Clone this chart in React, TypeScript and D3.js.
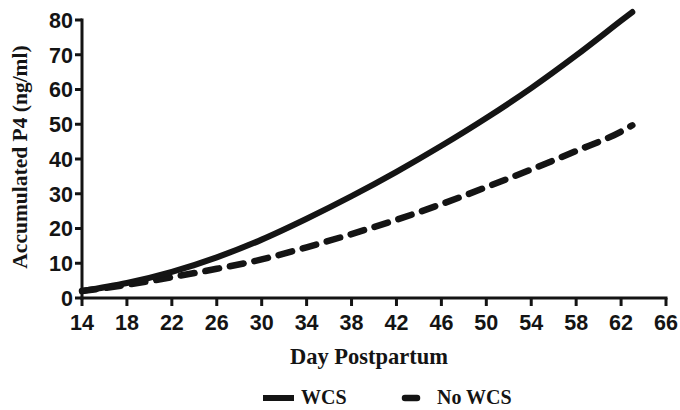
import React from 'react';
import * as d3 from 'd3';

// days
const days = [14, 18, 22, 26, 30, 34, 38, 42, 46, 50, 54, 58, 62, 63];
const wcs = [2.0, 4.3, 7.5, 11.7, 16.8, 22.8, 29.3, 36.3, 43.8, 51.8, 60.4, 69.8, 79.8, 82.3];
const noWcs = [2.0, 3.8, 6.0, 8.4, 11.1, 14.6, 18.4, 22.5, 27.0, 31.9, 37.0, 42.3, 47.9, 49.7];

const xTicks = [14, 18, 22, 26, 30, 34, 38, 42, 46, 50, 54, 58, 62, 66];
const yTicks = [0, 10, 20, 30, 40, 50, 60, 70, 80];

const W = 680, H = 410;

export default function App() {
  const x = d3.scaleLinear().domain([14, 66]).range([82, 666]);
  const y = d3.scaleLinear().domain([0, 80]).range([298, 20]);

  const line = d3.line<[number, number]>()
    .x(d => x(d[0]))
    .y(d => y(d[1]))
    .curve(d3.curveMonotoneX);

  const wcsPath = line(days.map((d, i) => [d, wcs[i]] as [number, number])) || '';
  const noPath = line(days.map((d, i) => [d, noWcs[i]] as [number, number])) || '';

  const ink = '#141414';
  const sans = '"Liberation Sans", Arial, sans-serif';
  const serif = '"Liberation Serif", "Times New Roman", serif';

  return (
    <svg width={W} height={H} style={{ position: 'fixed', left: 0, top: 0, background: '#fff' }}>
      {/* series */}
      <path d={noPath} fill="none" stroke={ink} strokeWidth={6.5} strokeDasharray="14 11"
        strokeLinecap="round" />
      <path d={wcsPath} fill="none" stroke={ink} strokeWidth={6} strokeLinecap="round" />

      {/* y axis */}
      <line x1={x(14)} x2={x(14)} y1={y(80) - 1.5} y2={y(0) + 1.5} stroke={ink} strokeWidth={3} />
      {yTicks.map(t => (
        <g key={'y' + t}>
          <line x1={x(14) - 7} x2={x(14)} y1={y(t)} y2={y(t)} stroke={ink} strokeWidth={3} />
          <text x={x(14) - 9} y={y(t)} dy="0.37em" textAnchor="end" fontFamily={sans}
            fontWeight="bold" fontSize={21.5} fill={ink}>{t}</text>
        </g>
      ))}

      {/* x axis */}
      <line x1={x(14) - 1.5} x2={x(66) + 1.5} y1={y(0)} y2={y(0)} stroke={ink} strokeWidth={3} />
      {xTicks.map(t => (
        <g key={'x' + t}>
          <line x1={x(t)} x2={x(t)} y1={y(0)} y2={y(0) + 8} stroke={ink} strokeWidth={3} />
          <text x={x(t)} y={y(0) + 32} textAnchor="middle" fontFamily={sans}
            fontWeight="bold" fontSize={21.5} fill={ink}>{t}</text>
        </g>
      ))}

      {/* axis titles */}
      <text transform="translate(27,157) rotate(-90)" textAnchor="middle"
        fontFamily={serif} fontWeight="bold" fontSize={21.5} fill={ink}>Accumulated P4 (ng/ml)</text>
      <text x={369} y={364} textAnchor="middle" fontFamily={serif} fontWeight="bold"
        fontSize={22.5} fill={ink}>Day Postpartum</text>

      {/* legend */}
      <line x1={263} x2={294} y1={398} y2={398} stroke={ink} strokeWidth={6} />
      <text x={301} y={404} fontFamily={serif} fontWeight="bold" fontSize={20} fill={ink}>WCS</text>
      <line x1={405} x2={417} y1={398} y2={398} stroke={ink} strokeWidth={6.5} strokeLinecap="round" />
      <text x={437} y={404} fontFamily={serif} fontWeight="bold" fontSize={20} fill={ink}>No WCS</text>
    </svg>
  );
}
